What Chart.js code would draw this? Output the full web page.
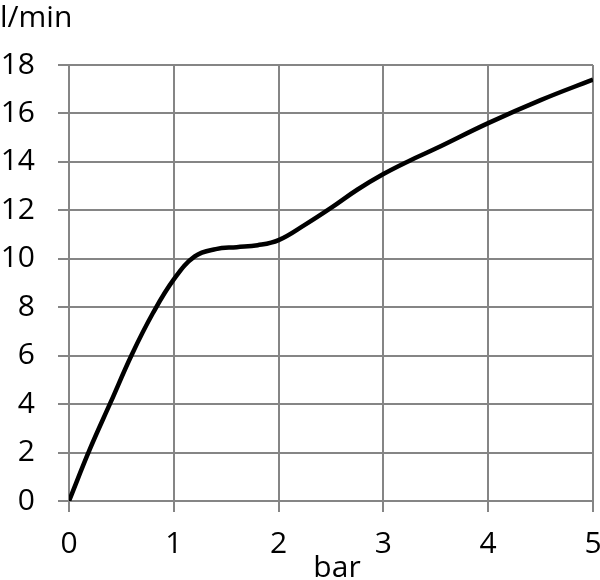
<!DOCTYPE html>
<html>
<head>
<meta charset="utf-8">
<script src="https://cdn.jsdelivr.net/npm/chart.js@4/dist/chart.umd.min.js"></script>
<style>
  html, body { margin: 0; padding: 0; background: #fff; }
  #wrap { width: 600px; height: 580px; }
</style>
</head>
<body>
<div id="wrap"><canvas id="grafico"></canvas></div>
<script>
// pressão (bar) x vazão (l/min)
const pressao = [0, 0.2, 0.4, 0.6, 0.8, 1.0, 1.2, 1.4, 1.6, 1.8, 2.0, 2.25, 2.5, 2.75, 3.0, 3.25, 3.5, 4.0, 4.5, 5.0];
const vazao   = [0, 2.15, 4.1, 6.05, 7.75, 9.15, 10.1, 10.4, 10.48, 10.56, 10.77, 11.4, 12.1, 12.85, 13.5, 14.05, 14.55, 15.6, 16.55, 17.4];
const tituloY = 'l/min';
const tituloX = 'bar';

const fonte = "'Open Sans', 'Noto Sans', sans-serif";
const cinza = '#858585';

// titulos desenhados a mao (o do eixo y fica na horizontal)
const titulos = {
    id: 'titulos',
    afterDraw(chart) {
        const ctx = chart.ctx;
        ctx.save();
        ctx.fillStyle = '#000';
        ctx.font = '30px ' + fonte;
        ctx.textBaseline = 'alphabetic';
        ctx.textAlign = 'left';
        ctx.fillText(tituloY, 0, 27);
        ctx.textAlign = 'center';
        ctx.fillText(tituloX, 337, 577);
        ctx.restore();
    }
};

const pontos = pressao.map((x, i) => ({ x, y: vazao[i] }));

new Chart(document.getElementById('grafico'), {
    type: 'line',
    data: {
        datasets: [{
            data: pontos,
            borderColor: '#000',
            borderWidth: 4.5,
            pointRadius: 0,
            fill: false,
            tension: 0.4
        }]
    },
    options: {
        responsive: true,
        maintainAspectRatio: false,
        animation: false,
        layout: { padding: { top: 65, right: 7, left: 0, bottom: 0 } },
        plugins: { legend: { display: false }, tooltip: { enabled: false } },
        scales: {
            x: {
                type: 'linear',
                min: 0, max: 5,
                ticks: { stepSize: 1, color: '#000', font: { size: 30, family: fonte }, padding: 14, maxRotation: 0 },
                grid: { color: cinza, lineWidth: 2, tickLength: 11 },
                border: { color: cinza, width: 2 },
                afterFit: a => { a.height = 79; a.paddingLeft = 0; a.paddingRight = 0; }
            },
            y: {
                min: 0, max: 18,
                ticks: { stepSize: 2, color: '#000', font: { size: 30, family: fonte }, padding: 23 },
                grid: { color: cinza, lineWidth: 2, tickLength: 11 },
                border: { color: cinza, width: 2 },
                afterFit: a => { a.width = 69; a.paddingTop = 0; a.paddingBottom = 0; }
            }
        }
    },
    plugins: [titulos]
});
</script>
</body>
</html>
